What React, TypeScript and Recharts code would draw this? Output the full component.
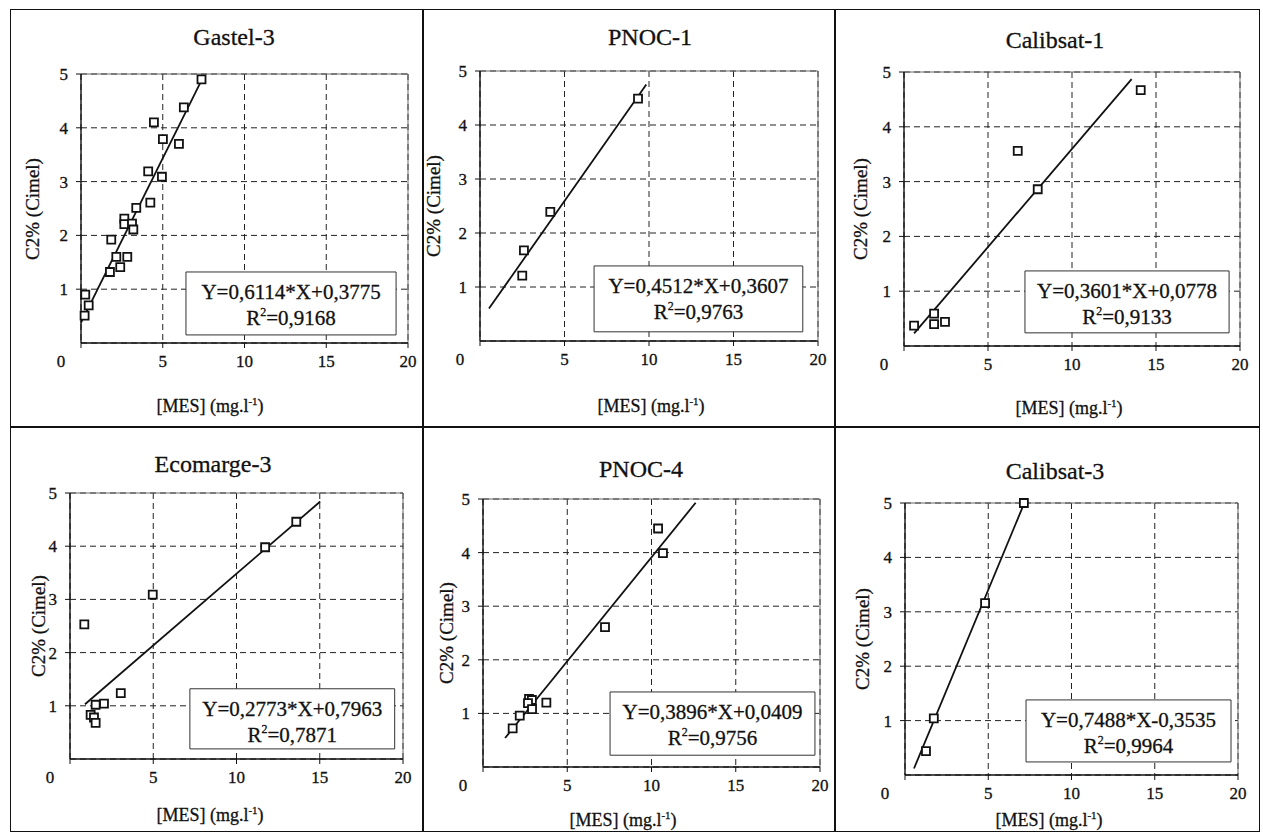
import React from "react";
import {
  CartesianGrid,
  ReferenceArea,
  ReferenceLine,
  Scatter,
  ScatterChart,
  XAxis,
  YAxis,
  ZAxis,
} from "recharts";

type Pt = { x: number; y: number };

// values
const gastel3Pts: Pt[] = [
  { x: 7.37, y: 4.9 }, { x: 6.29, y: 4.38 }, { x: 4.46, y: 4.1 }, { x: 5.01, y: 3.79 },
  { x: 5.99, y: 3.7 }, { x: 4.11, y: 3.19 }, { x: 4.95, y: 3.09 }, { x: 4.24, y: 2.61 },
  { x: 3.38, y: 2.51 }, { x: 2.65, y: 2.31 }, { x: 2.65, y: 2.21 }, { x: 3.12, y: 2.22 },
  { x: 3.2, y: 2.11 }, { x: 1.85, y: 1.92 }, { x: 2.16, y: 1.6 }, { x: 2.83, y: 1.6 },
  { x: 2.4, y: 1.41 }, { x: 1.77, y: 1.32 }, { x: 0.26, y: 0.9 }, { x: 0.47, y: 0.7 },
  { x: 0.22, y: 0.51 },
];
const gastel3Fit: Pt[] = [{ x: 0, y: 0.38 }, { x: 7.37, y: 4.88 }];

const pnoc1Pts: Pt[] = [
  { x: 9.35, y: 4.49 }, { x: 4.16, y: 2.39 }, { x: 2.6, y: 1.68 }, { x: 2.5, y: 1.21 },
];
const pnoc1Fit: Pt[] = [{ x: 0.53, y: 0.6 }, { x: 9.84, y: 4.75 }];

const calibsat1Pts: Pt[] = [
  { x: 14.09, y: 4.67 }, { x: 6.77, y: 3.56 }, { x: 7.96, y: 2.86 }, { x: 1.79, y: 0.59 },
  { x: 1.79, y: 0.4 }, { x: 2.44, y: 0.44 }, { x: 0.6, y: 0.37 },
];
const calibsat1Fit: Pt[] = [{ x: 0.6, y: 0.23 }, { x: 13.55, y: 4.87 }];

const ecomarge3Pts: Pt[] = [
  { x: 13.59, y: 4.46 }, { x: 11.72, y: 3.98 }, { x: 4.97, y: 3.09 }, { x: 0.86, y: 2.53 },
  { x: 3.05, y: 1.24 }, { x: 2.04, y: 1.04 }, { x: 1.54, y: 1.02 }, { x: 1.24, y: 0.83 },
  { x: 1.44, y: 0.78 }, { x: 1.54, y: 0.68 },
];
const ecomarge3Fit: Pt[] = [{ x: 0.9, y: 1.03 }, { x: 15.03, y: 4.84 }];

const pnoc4Pts: Pt[] = [
  { x: 10.39, y: 4.45 }, { x: 10.68, y: 3.99 }, { x: 7.24, y: 2.61 }, { x: 2.73, y: 1.27 },
  { x: 2.9, y: 1.25 }, { x: 2.67, y: 1.19 }, { x: 2.91, y: 1.08 }, { x: 3.76, y: 1.2 },
  { x: 2.18, y: 0.96 }, { x: 1.76, y: 0.72 },
];
const pnoc4Fit: Pt[] = [{ x: 1.31, y: 0.54 }, { x: 12.62, y: 4.93 }];

const calibsat3Pts: Pt[] = [
  { x: 7.14, y: 5.0 }, { x: 4.81, y: 3.16 }, { x: 1.73, y: 1.04 }, { x: 1.26, y: 0.44 },
];
const calibsat3Fit: Pt[] = [{ x: 0.54, y: 0.12 }, { x: 7.14, y: 4.98 }];

const TITLES = ["Gastel-3", "PNOC-1", "Calibsat-1", "Ecomarge-3", "PNOC-4", "Calibsat-3"];
const EQUATIONS = [
  "Y=0,6114*X+0,3775",
  "Y=0,4512*X+0,3607",
  "Y=0,3601*X+0,0778",
  "Y=0,2773*X+0,7963",
  "Y=0,3896*X+0,0409",
  "Y=0,7488*X-0,3535",
];
const R2_VALUES = ["0,9168", "0,9763", "0,9133", "0,7871", "0,9756", "0,9964"];
const POINTS = [gastel3Pts, pnoc1Pts, calibsat1Pts, ecomarge3Pts, pnoc4Pts, calibsat3Pts];
const FITS = [gastel3Fit, pnoc1Fit, calibsat1Fit, ecomarge3Fit, pnoc4Fit, calibsat3Fit];

const X_TICKS = [0, 5, 10, 15, 20];
const Y_TICKS = [1, 2, 3, 4, 5];
const Y_LABEL = "C2% (Cimel)";

const FONT = "Liberation Serif, Times New Roman, Tinos, DejaVu Serif, serif";
const INK = "#111";

// page layout, in px: panel box, plot box, title centre, axis label spots, equation box (data units)
const LAYOUT = [
  { panel: [10, 9, 412, 417], plot: [81, 74, 408, 343], title: [234, 37], yLab: 32, xLab: [210, 405], box: [6.42, 19.27, 0.15, 1.32] },
  { panel: [422, 9, 412, 417], plot: [480, 71, 818, 341], title: [650, 37], yLab: 433, xLab: [651, 405], box: [6.75, 19.1, 0.17, 1.39] },
  { panel: [834, 9, 426, 417], plot: [904, 72, 1240, 346], title: [1055, 40], yLab: 860, xLab: [1069, 407], box: [7.2, 19.35, 0.24, 1.37] },
  { panel: [10, 426, 412, 406], plot: [70, 493, 403, 759], title: [213, 464], yLab: 38, xLab: [210, 814], box: [7.2, 19.5, 0.19, 1.32] },
  { panel: [422, 426, 412, 406], plot: [483, 499, 820, 767], title: [641, 469], yLab: 446, xLab: [623, 819], box: [7.54, 19.7, 0.22, 1.4] },
  { panel: [834, 426, 426, 406], plot: [905, 503, 1238, 775], title: [1055, 471], yLab: 862, xLab: [1049, 819], box: [7.27, 19.58, 0.24, 1.38] },
];

const YW = 40;
const XH = 30;

function XTick(props: any) {
  const { x, y, payload } = props;
  // the "0" sits left of the axis corner in the original
  const dx = payload.value === 0 ? -20 : 0;
  return (
    <text x={x + dx} y={y} dy="0.71em" textAnchor="middle" fontFamily={FONT} fontSize={17} fill={INK} stroke={INK} strokeWidth={0.3}>
      {payload.value}
    </text>
  );
}

function YTick(props: any) {
  const { x, y, payload } = props;
  return (
    <text x={x} y={y} dy="0.355em" textAnchor="end" fontFamily={FONT} fontSize={17} fill={INK} stroke={INK} strokeWidth={0.3}>
      {payload.value}
    </text>
  );
}

function EqLabel({ viewBox, eq, r2 }: any) {
  const { x, y, width } = viewBox;
  const cx = x + width / 2;
  return (
    <g fontFamily={FONT} fontSize={21} fill={INK} stroke={INK} strokeWidth={0.3}>
      <text x={cx} y={y + 27} textAnchor="middle" fontFamily={FONT}>{eq}</text>
      <text x={cx} y={y + 53} textAnchor="middle" fontFamily={FONT}>
        R<tspan dy={-9} fontSize={12}>2</tspan>
        <tspan dy={9}>={r2}</tspan>
      </text>
    </g>
  );
}

function Panel({ i }: { i: number }) {
  const cfg = LAYOUT[i];
  const [pl, pt, pw, ph] = cfg.panel;
  const [x0, y0, x1, y1] = cfg.plot;
  const margin = {
    left: x0 - pl - YW,
    top: y0 - pt,
    right: pl + pw - x1,
    bottom: pt + ph - y1 - XH,
  };
  const [bx1, bx2, by1, by2] = cfg.box;
  const textStyle: React.CSSProperties = {
    position: "absolute",
    whiteSpace: "nowrap",
    fontFamily: FONT,
    color: INK,
    lineHeight: 1,
    WebkitTextStroke: "0.3px #111",
  };

  return (
    <>
      <div style={{ position: "absolute", left: pl, top: pt }}>
        <ScatterChart width={pw} height={ph} margin={margin}>
          <CartesianGrid strokeDasharray="6 4" stroke="#222" strokeWidth={1} />
          <XAxis
            type="number"
            dataKey="x"
            domain={[0, 20]}
            ticks={X_TICKS}
            height={XH}
            tickSize={5}
            tickMargin={7}
            tick={<XTick />}
            axisLine={{ stroke: INK, strokeWidth: 1.4 }}
            tickLine={{ stroke: INK }}
          />
          <YAxis
            type="number"
            dataKey="y"
            domain={[0, 5]}
            ticks={Y_TICKS}
            width={YW}
            tickSize={5}
            tickMargin={8}
            tick={<YTick />}
            axisLine={{ stroke: INK, strokeWidth: 1.4 }}
            tickLine={{ stroke: INK }}
          />
          <ZAxis range={[110, 110]} />
          <ReferenceLine y={5} stroke="#666" strokeWidth={1} />
          <ReferenceLine x={20} stroke="#666" strokeWidth={1} />
          <ReferenceArea
            x1={bx1}
            x2={bx2}
            y1={by1}
            y2={by2}
            fill="#fff"
            fillOpacity={1}
            stroke="#333"
            strokeWidth={1}
            label={(p: any) => <EqLabel {...p} eq={EQUATIONS[i]} r2={R2_VALUES[i]} />}
          />
          <Scatter
            data={FITS[i]}
            line={{ stroke: INK, strokeWidth: 1.8 }}
            shape={() => <g />}
            legendType="none"
            isAnimationActive={false}
          />
          <Scatter
            data={POINTS[i]}
            shape="square"
            fill="#fff"
            stroke={INK}
            strokeWidth={1.8}
            isAnimationActive={false}
          />
        </ScatterChart>
      </div>
      <div
        style={{
          ...textStyle,
          left: cfg.title[0],
          top: cfg.title[1],
          fontSize: 24,
          transform: "translate(-50%, -50%)",
        }}
      >
        {TITLES[i]}
      </div>
      <div
        style={{
          ...textStyle,
          left: cfg.yLab,
          top: (y0 + y1) / 2,
          fontSize: 19,
          transform: "translate(-50%, -50%) rotate(-90deg)",
        }}
      >
        {Y_LABEL}
      </div>
      <div
        style={{
          ...textStyle,
          left: cfg.xLab[0],
          top: cfg.xLab[1],
          fontSize: 18,
          transform: "translate(-50%, -50%)",
        }}
      >
        [MES] (mg.l<sup style={{ fontSize: 11 }}>-1</sup>)
      </div>
    </>
  );
}

export default function App() {
  return (
    <div
      style={{
        position: "absolute",
        left: 0,
        top: 0,
        width: 1263,
        height: 836,
        background: "#fff",
        overflow: "hidden",
        fontFamily: FONT,
      }}
    >
      {/* outer frame and dividers */}
      <div style={{ position: "absolute", left: 10, top: 9, width: 1250, height: 823, border: "1.5px solid #111", boxSizing: "border-box" }} />
      <div style={{ position: "absolute", left: 422, top: 9, width: 1.5, height: 823, background: INK }} />
      <div style={{ position: "absolute", left: 834, top: 9, width: 1.5, height: 823, background: INK }} />
      <div style={{ position: "absolute", left: 10, top: 426, width: 1250, height: 1.5, background: INK }} />
      {TITLES.map((_, i) => (
        <Panel key={i} i={i} />
      ))}
    </div>
  );
}
